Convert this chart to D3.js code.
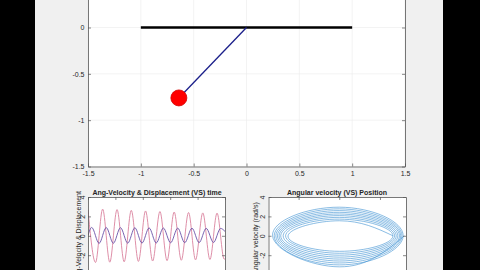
<!DOCTYPE html>
<html>
<head>
<meta charset="utf-8">
<script src="https://cdn.jsdelivr.net/npm/d3@7"></script>
<style>
  body { margin: 0; background: #000; }
  svg { display: block; }
  text { font-family: "Liberation Sans", Arial, sans-serif; fill: #262626; }
</style>
</head>
<body>
<svg width="480" height="270"></svg>
<script>
const width = 480,
  height = 270

// pendulum view
let mainXTicks = [-1.5, -1, -0.5, 0, 0.5, 1, 1.5]
let mainYTicks = [-1.5, -1, -0.5, 0, 0.5, 1, 1.5]
let ceiling = [[-1, 0], [1, 0]]
let pivot = [0, 0]
let bob = [-0.64, -0.76]

// angular velocity & displacement vs time, turning points
let velTime = [0, 0.55, 1.07, 1.59, 2.12, 2.64, 3.16, 3.68, 4.2, 4.72, 5.25, 5.77, 6.29, 6.81, 7.34, 7.85, 8.38, 8.9, 9.42, 9.94, 10]
let velValue = [2.7, -2.75, 2.75, -2.72, 2.7, -2.68, 2.62, -2.64, 2.56, -2.6, 2.5, -2.56, 2.45, -2.52, 2.4, -2.48, 2.36, -2.44, 2.34, -2.4, -2.38]
let dispTime = [0, 0.27, 0.81, 1.33, 1.85, 2.37, 2.9, 3.42, 3.94, 4.46, 4.98, 5.5, 6.03, 6.55, 7.06, 7.59, 8.11, 8.63, 9.16, 9.68, 10]
let dispValue = [0.05, 0.86, -0.78, 0.85, -0.77, 0.84, -0.76, 0.83, -0.75, 0.81, -0.74, 0.8, -0.72, 0.79, -0.71, 0.78, -0.7, 0.77, -0.69, 0.76, 0.45]
let timeTicks = [0, 2, 4, 6, 8, 10]
let subYTicks = [-4, -2, 0, 2, 4]

// angular velocity vs position, turning points of each ring (outer to inner)
let ringRight = [0.8, 0.785, 0.77, 0.755, 0.74, 0.72, 0.7, 0.68, 0.66]
let ringBottom = [-3.2, -3.0, -2.8, -2.6, -2.4, -2.2, -2.0, -1.8, -1.6]
let ringLeft = [-0.82, -0.8, -0.78, -0.76, -0.74, -0.72, -0.69, -0.66, -0.63]
let ringTop = [2.95, 2.78, 2.6, 2.42, 2.25, 2.08, 1.9, 1.72, 1.55]
let posTicks = [-0.5, 0, 0.5]

let svg = d3.select('svg')

// letterbox + figure background
svg.append('rect').attr('width', width).attr('height', height).attr('fill', '#000')
svg.append('rect')
  .attr('x', 35).attr('width', 408).attr('height', height)
  .attr('fill', '#f0f0f0')

let clipId = 0
function makeAxes(x, y, opts) {
  let [x0, x1] = x.range(), [y1, y0] = y.range()
  let g = svg.append('g')
  let id = 'clip' + (clipId++)

  svg.append('defs').append('clipPath').attr('id', id)
    .append('rect')
    .attr('x', x0).attr('y', y0)
    .attr('width', x1 - x0).attr('height', y1 - y0)

  g.append('rect')
    .attr('x', x0).attr('y', y0)
    .attr('width', x1 - x0).attr('height', y1 - y0)
    .attr('fill', '#fff')

  if (opts.grid) {
    g.selectAll('line.gx').data(opts.xTicks).enter().append('line')
      .attr('x1', d => x(d)).attr('x2', d => x(d))
      .attr('y1', y0).attr('y2', y1)
      .attr('stroke', '#ebebeb').attr('stroke-width', 0.6)
    g.selectAll('line.gy').data(opts.yTicks).enter().append('line')
      .attr('y1', d => y(d)).attr('y2', d => y(d))
      .attr('x1', x0).attr('x2', x1)
      .attr('stroke', '#ebebeb').attr('stroke-width', 0.6)
  }

  let plot = g.append('g').attr('clip-path', `url(#${id})`)

  let axes = [
    ['left', d3.axisLeft(y), `translate(${x0},0)`, opts.yTicks, true, y],
    ['right', d3.axisRight(y), `translate(${x1},0)`, opts.yTicks, false, y],
    ['bottom', d3.axisBottom(x), `translate(0,${y1})`, opts.xTicks, true, x],
    ['top', d3.axisTop(x), `translate(0,${y0})`, opts.xTicks, false, x]
  ]
  let frame = g.append('g')
  axes.forEach(([side, axis, tr, ticks, labelled, scale]) => {
    axis.tickValues(ticks).tickSizeInner(-3).tickSizeOuter(0).tickPadding(3.5)
      .tickFormat(labelled ? d => String(d) : '')
    let a = frame.append('g').attr('class', side).attr('transform', tr).call(axis)
    a.select('.domain').attr('stroke', '#555').attr('stroke-width', 0.8)
    a.selectAll('.tick line').attr('stroke', '#555').attr('stroke-width', 0.7)
    a.selectAll('.tick text').attr('font-size', 7).attr('fill', '#262626')
    // labels that fall outside the window are not shown
    if (side === 'left') {
      a.selectAll('.tick').filter(d => scale(d) < 3 || scale(d) > height - 3).select('text').remove()
    }
    if (side === 'bottom' && y1 > height - 8) a.selectAll('.tick text').remove()
  })

  return { g, plot, frame }
}

// ---- pendulum ----
let mx = d3.scaleLinear().domain([-1.5, 1.5]).range([88, 405])
let my = d3.scaleLinear().domain([-1.5, 1.5]).range([166.5, -111.5])
let main = makeAxes(mx, my, { xTicks: mainXTicks, yTicks: mainYTicks, grid: true })
main.frame.select('.left').selectAll('.tick text').attr('dy', '0.35em')
main.frame.select('.bottom').selectAll('.tick text').attr('dy', '0.9em').attr('y', 3)

main.plot.append('path')
  .attr('d', d3.line().x(d => mx(d[0])).y(d => my(d[1]))(ceiling))
  .attr('stroke', '#000').attr('stroke-width', 2.4).attr('fill', 'none')

main.plot.append('path')
  .attr('d', d3.line().x(d => mx(d[0])).y(d => my(d[1]))([pivot, bob]))
  .attr('stroke', '#1b1f8a').attr('stroke-width', 1.3).attr('fill', 'none')

main.plot.append('circle')
  .attr('cx', mx(bob[0])).attr('cy', my(bob[1]))
  .attr('r', 8)
  .attr('fill', '#ff0000').attr('stroke', '#d40000').attr('stroke-width', 0.8)

// ---- angular velocity & displacement vs time ----
let tx = d3.scaleLinear().domain([0, 10]).range([88, 225])
let ty = d3.scaleLinear().domain([-4, 4]).range([274.6, 197])
let left = makeAxes(tx, ty, { xTicks: timeTicks, yTicks: subYTicks })

let timeLine = d3.line().curve(d3.curveMonotoneX)
left.plot.append('path')
  .attr('d', timeLine(velTime.map((t, i) => [tx(t), ty(velValue[i])])))
  .attr('stroke', '#da829e').attr('stroke-width', 0.9).attr('fill', 'none')
left.plot.append('path')
  .attr('d', timeLine(dispTime.map((t, i) => [tx(t), ty(dispValue[i])])))
  .attr('stroke', '#6a52a8').attr('stroke-width', 0.9).attr('fill', 'none')

// ---- phase portrait ----
let px = d3.scaleLinear().domain([-0.87, 0.82]).range([268.5, 406])
let py = d3.scaleLinear().domain([-4, 4]).range([274.6, 197])
let right = makeAxes(px, py, { xTicks: posTicks, yTicks: subYTicks })

let turns = []
ringRight.forEach((r, i) => {
  turns.push([r, 0], [0, ringBottom[i]], [ringLeft[i], 0], [0, ringTop[i]])
})
turns.push([ringRight[ringRight.length - 1], 0])
right.plot.append('path')
  .attr('d', d3.line().curve(d3.curveNatural).x(d => px(d[0])).y(d => py(d[1]))(turns))
  .attr('stroke', '#3d90d2').attr('stroke-width', 0.6).attr('fill', 'none')

// rotated tick labels + labels on the small axes
;[left, right].forEach(ax => {
  ax.frame.select('.left').selectAll('.tick text')
    .attr('transform', 'rotate(-90)')
    .attr('x', 0).attr('y', -3.5).attr('dy', 0)
    .attr('text-anchor', 'middle')
})

svg.append('text')
  .attr('x', 157).attr('y', 195)
  .attr('text-anchor', 'middle')
  .attr('font-size', 7).attr('font-weight', 'bold')
  .text('Ang-Velocity & Displacement (VS) time')

svg.append('text')
  .attr('x', 337).attr('y', 195)
  .attr('text-anchor', 'middle')
  .attr('font-size', 7).attr('font-weight', 'bold')
  .text('Angular velocity (VS) Position')

svg.append('text')
  .attr('transform', 'translate(80.5,236) rotate(-90)')
  .attr('text-anchor', 'middle')
  .attr('font-size', 7)
  .text('Ang-Velocity & Displacement')

svg.append('text')
  .attr('transform', 'translate(258,238) rotate(-90)')
  .attr('text-anchor', 'middle')
  .attr('font-size', 7)
  .text('Angular velocity (rad/s)')
</script>
</body>
</html>
